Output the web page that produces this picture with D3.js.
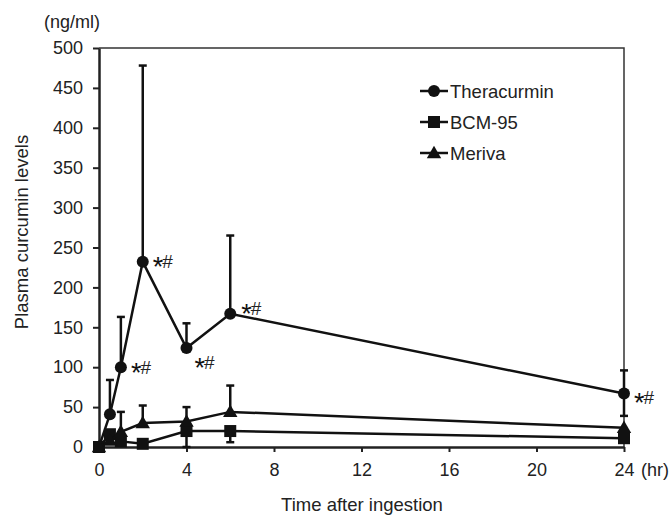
<!DOCTYPE html>
<html>
<head>
<meta charset="utf-8">
<script src="https://cdn.jsdelivr.net/npm/d3@7"></script>
<style>
  body { margin: 0; background: #fff; }
  svg text { font-family: "Liberation Sans", Arial, sans-serif; fill: #222; }
</style>
</head>
<body>
<svg id="chart" width="670" height="515"></svg>
<script>
// time points (hr)
var times = [0, 0.5, 1, 2, 4, 6, 24];

// Theracurmin
var theraMean = [0, 41, 100, 232, 124, 167, 67];
var theraUp = [null, 84, 163, 478, 155, 265, 96];
var theraLow = [null, null, null, null, null, null, 39];

// BCM-95
var bcmMean = [0, 16, 7, 4, 20, 20, 11];
var bcmUp = [null, null, null, null, null, null, null];
var bcmLow = [null, null, null, null, 0, 6, null];

// Meriva
var merivaMean = [0, 8, 19, 30, 32, 44, 24];
var merivaUp = [null, null, 44, 52, 50, 77, null];
var merivaLow = [null, null, null, null, null, null, null];

var seriesNames = ["Theracurmin", "BCM-95", "Meriva"];
var yTicks = [0, 50, 100, 150, 200, 250, 300, 350, 400, 450, 500];
var xTicks = [0, 4, 8, 12, 16, 20, 24];
// points of Theracurmin marked as significant
var sigIndex = [2, 3, 4, 5, 6];

var svg = d3.select("#chart");
var x = d3.scaleLinear().domain([0, 24]).range([99, 624]);
var y = d3.scaleLinear().domain([0, 500]).range([447, 48]);

var series = [
    {name: seriesNames[0], mean: theraMean, up: theraUp, low: theraLow, shape: "circle"},
    {name: seriesNames[1], mean: bcmMean, up: bcmUp, low: bcmLow, shape: "square"},
    {name: seriesNames[2], mean: merivaMean, up: merivaUp, low: merivaLow, shape: "triangle"}
];

// frame (top + right)
svg.append("path")
    .attr("d", "M" + x(0) + "," + y(500) + "H" + x(24) + "V" + y(0))
    .attr("fill", "none").attr("stroke", "#333").attr("stroke-width", 1.5);

// y axis
var yAxis = svg.append("g").attr("transform", "translate(" + x(0) + ",0)")
    .call(d3.axisLeft(y).tickValues(yTicks).tickSize(6).tickPadding(10).tickSizeOuter(0));
yAxis.select(".domain").attr("stroke", "#222").attr("stroke-width", 2.5);
yAxis.selectAll(".tick line").attr("stroke", "#222").attr("stroke-width", 2);
yAxis.selectAll(".tick text").attr("font-size", 18).attr("fill", "#222")
    .attr("font-family", "Liberation Sans, Arial, sans-serif");

// x axis
var xAxis = svg.append("g").attr("transform", "translate(0," + y(0) + ")")
    .call(d3.axisBottom(x).tickValues(xTicks).tickSize(5).tickPadding(11).tickSizeOuter(0));
xAxis.select(".domain").attr("stroke", "#222").attr("stroke-width", 2.5);
xAxis.selectAll(".tick line").attr("stroke", "#222").attr("stroke-width", 2);
xAxis.selectAll(".tick text").attr("font-size", 18).attr("fill", "#222")
    .attr("font-family", "Liberation Sans, Arial, sans-serif");

svg.append("text").attr("x", x(24) + 17).attr("y", 476)
    .attr("font-size", 18).text("(hr)");

svg.append("text").attr("x", 100).attr("y", 28).attr("text-anchor", "end")
    .attr("font-size", 18).text("(ng/ml)");

svg.append("text").attr("x", 362).attr("y", 511)
    .attr("text-anchor", "middle").attr("font-size", 18.5).text("Time after ingestion");

svg.append("text").attr("transform", "translate(28,232) rotate(-90)")
    .attr("text-anchor", "middle").attr("font-size", 18.5).text("Plasma curcumin levels");

var line = d3.line().x(function(d) { return x(d[0]); }).y(function(d) { return y(d[1]); });

function drawMarker(g, shape, cx, cy) {
    if (shape == "circle") {
        g.append("circle").attr("cx", cx).attr("cy", cy).attr("r", 6).attr("fill", "#111");
    } else if (shape == "square") {
        g.append("rect").attr("x", cx - 6).attr("y", cy - 6).attr("width", 12).attr("height", 12).attr("fill", "#111");
    } else {
        g.append("path").attr("d", d3.symbol().type(d3.symbolTriangle).size(90)())
            .attr("transform", "translate(" + cx + "," + (cy + 1) + ")").attr("fill", "#111");
    }
}

series.forEach(function(s) {
    var g = svg.append("g");
    // error bars
    times.forEach(function(t, i) {
        [s.up[i], s.low[i]].forEach(function(e) {
            if (e === null) return;
            g.append("line").attr("x1", x(t)).attr("x2", x(t))
                .attr("y1", y(s.mean[i])).attr("y2", y(e))
                .attr("stroke", "#111").attr("stroke-width", 2.5);
            g.append("line").attr("x1", x(t) - 4).attr("x2", x(t) + 4)
                .attr("y1", y(e)).attr("y2", y(e))
                .attr("stroke", "#111").attr("stroke-width", 2.5);
        });
    });
    g.append("path").datum(times.map(function(t, i) { return [t, s.mean[i]]; }))
        .attr("d", line).attr("fill", "none").attr("stroke", "#111").attr("stroke-width", 2.5);
    times.forEach(function(t, i) { drawMarker(g, s.shape, x(t), y(s.mean[i])); });
});

// significance marks
var sigDx = {2: 10, 3: 10, 4: 8, 5: 11, 6: 10};
var sigDy = {2: 7, 3: 6, 4: 21, 5: 1, 6: 10};
sigIndex.forEach(function(i) {
    var t = svg.append("text").attr("x", x(times[i]) + sigDx[i]).attr("y", y(theraMean[i]) + sigDy[i])
        .attr("font-size", 19);
    t.append("tspan").attr("font-size", 27).attr("dy", 8).attr("fill", "#111").text("*");
    t.append("tspan").attr("dy", -8).attr("dx", -1).text("#");
});

// legend
var legend = svg.append("g");
series.forEach(function(s, i) {
    var ly = 91 + i * 31;
    legend.append("line").attr("x1", 420).attr("x2", 448).attr("y1", ly).attr("y2", ly)
        .attr("stroke", "#111").attr("stroke-width", 2.5);
    drawMarker(legend, s.shape, 434, ly);
    legend.append("text").attr("x", 450).attr("y", ly + 6.5).attr("font-size", 18.5).text(s.name);
});
</script>
</body>
</html>
